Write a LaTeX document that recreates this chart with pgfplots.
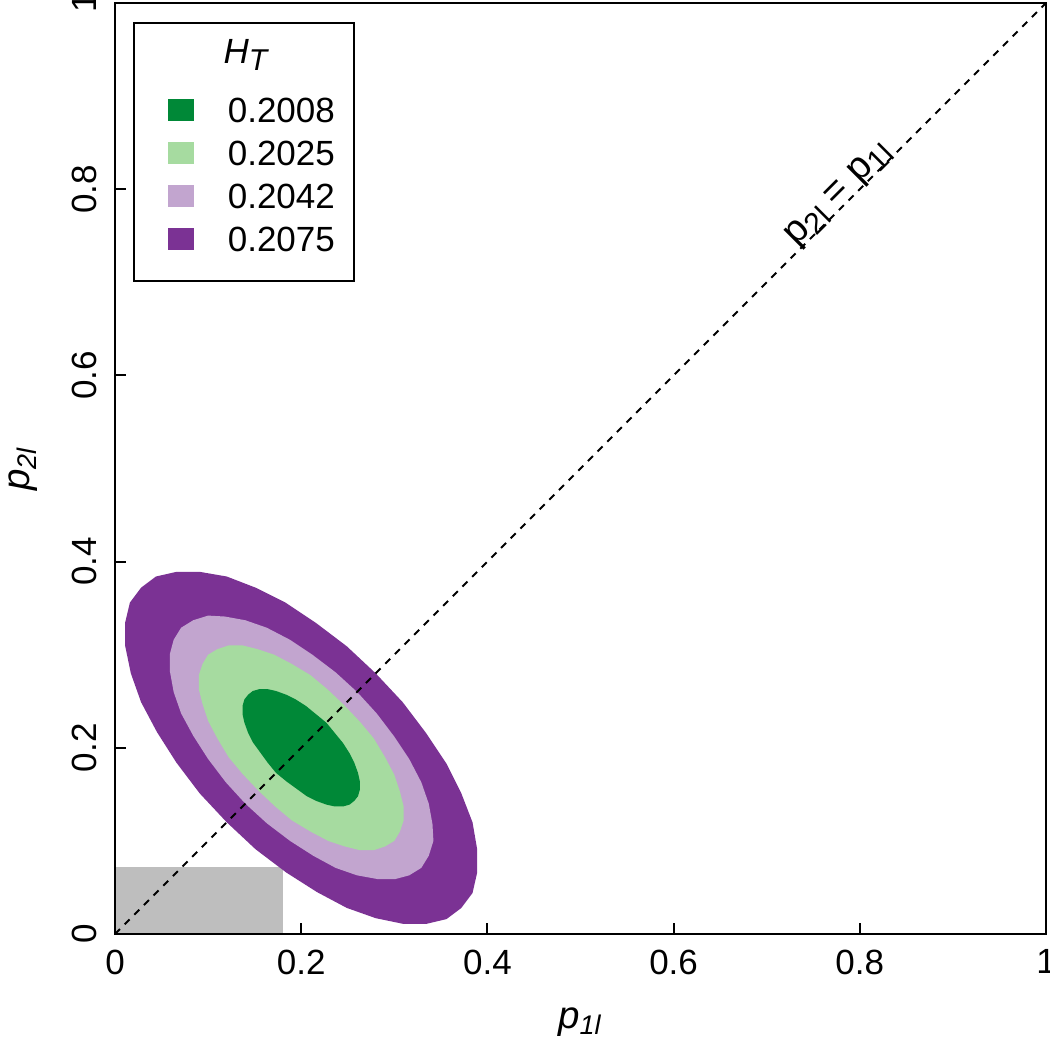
\documentclass[border=0pt]{standalone}
\usepackage{pgfplots}
\pgfplotsset{compat=1.18}
\usepackage{fontspec}
\setmainfont{Liberation Sans}
\definecolor{cDG}{HTML}{008837}
\definecolor{cLG}{HTML}{A6DBA0}
\definecolor{cLP}{HTML}{C2A5CF}
\definecolor{cDP}{HTML}{7B3294}
\definecolor{rgray}{HTML}{BEBEBE}
\newcommand{\sub}[1]{\raisebox{-0.35ex}{\fontsize{8.6}{10}\selectfont #1}}
\begin{document}
\begin{tikzpicture}
\begin{axis}[
  width=266pt, height=266pt, scale only axis,
  xmin=0, xmax=1, ymin=0, ymax=1,
  enlargelimits=false,
  axis on top,
  xtick={0,0.2,0.4,0.6,0.8,1},
  ytick={0,0.2,0.4,0.6,0.8,1},
  tick align=inside, tick pos=left,
  major tick length=3.1pt,
  tick style={black, line width=0.6pt},
  axis line style={line width=0.6pt},
  /pgf/number format/assume math mode=true,
  ticklabel style={font=\fontsize{10}{12}\selectfont, inner sep=0pt},
  xticklabel style={anchor=north},
  xticklabel shift=4.3pt,
  yticklabel style={rotate=90, anchor=south},
  yticklabel shift=5.1pt,
  xlabel={\textit{p}\textsubscript{\textit{1l}}},
  ylabel={\textit{p}\textsubscript{\textit{2l}}},
  every axis x label/.style={at={(axis description cs:0.5,-0.1011)}, anchor=base, font=\fontsize{11}{13}\selectfont},
  every axis y label/.style={at={(axis description cs:-0.0914,0.5)}, anchor=base, rotate=90, font=\fontsize{11}{13}\selectfont},
]
% grey rectangle
\addplot[fill=rgray, draw=none] coordinates {(0,0) (0.18,0) (0.18,0.072) (0,0.072)} -- cycle;
% H_T = 0.2075
\addplot[fill=cDP, draw=none] coordinates {
(0.372,0.028) (0.384,0.044) (0.389,0.066) (0.389,0.091) (0.384,0.120) (0.372,0.151)
(0.356,0.183) (0.334,0.216) (0.309,0.249) (0.280,0.280) (0.249,0.309) (0.216,0.334)
(0.183,0.356) (0.151,0.372) (0.120,0.384) (0.091,0.389) (0.066,0.389) (0.044,0.384)
(0.028,0.372) (0.016,0.356) (0.011,0.335) (0.011,0.309) (0.017,0.280) (0.028,0.249)
(0.045,0.217) (0.066,0.184) (0.091,0.151) (0.120,0.120) (0.151,0.091) (0.184,0.066)
(0.217,0.045) (0.249,0.028) (0.280,0.017) (0.309,0.011) (0.335,0.011) (0.356,0.016)} -- cycle;
% H_T = 0.2042
\addplot[fill=cLP, draw=none] coordinates {
(0.329,0.071) (0.337,0.084) (0.342,0.100) (0.341,0.118) (0.337,0.140) (0.329,0.163)
(0.316,0.188) (0.300,0.212) (0.281,0.237) (0.260,0.260) (0.237,0.281) (0.212,0.300)
(0.188,0.316) (0.163,0.329) (0.140,0.337) (0.118,0.341) (0.100,0.342) (0.084,0.337)
(0.071,0.329) (0.063,0.316) (0.059,0.301) (0.059,0.282) (0.063,0.260) (0.071,0.237)
(0.084,0.213) (0.100,0.188) (0.119,0.163) (0.140,0.140) (0.163,0.119) (0.188,0.100)
(0.213,0.084) (0.237,0.071) (0.260,0.063) (0.282,0.059) (0.301,0.059) (0.316,0.063)} -- cycle;
% H_T = 0.2025
\addplot[fill=cLG, draw=none] coordinates {
(0.300,0.100) (0.306,0.110) (0.310,0.122) (0.310,0.137) (0.306,0.153) (0.300,0.171)
(0.290,0.190) (0.278,0.210) (0.263,0.228) (0.246,0.246) (0.228,0.263) (0.210,0.278)
(0.190,0.290) (0.171,0.300) (0.153,0.306) (0.137,0.310) (0.122,0.310) (0.110,0.306)
(0.100,0.300) (0.094,0.290) (0.090,0.278) (0.090,0.263) (0.094,0.247) (0.100,0.229)
(0.110,0.210) (0.122,0.190) (0.137,0.172) (0.154,0.154) (0.172,0.137) (0.190,0.122)
(0.210,0.110) (0.229,0.100) (0.247,0.094) (0.263,0.090) (0.278,0.090) (0.290,0.094)} -- cycle;
% H_T = 0.2008
\addplot[fill=cDG, draw=none] coordinates {
(0.257,0.143) (0.261,0.148) (0.263,0.155) (0.263,0.164) (0.261,0.173) (0.257,0.184)
(0.252,0.194) (0.245,0.205) (0.236,0.216) (0.227,0.227) (0.216,0.236) (0.205,0.245)
(0.194,0.252) (0.184,0.257) (0.173,0.261) (0.164,0.263) (0.155,0.263) (0.148,0.261)
(0.143,0.257) (0.139,0.252) (0.137,0.245) (0.137,0.236) (0.139,0.227) (0.143,0.216)
(0.148,0.206) (0.156,0.195) (0.164,0.184) (0.173,0.173) (0.184,0.164) (0.195,0.156)
(0.206,0.148) (0.216,0.143) (0.227,0.139) (0.236,0.137) (0.245,0.137) (0.252,0.139)} -- cycle;
% diagonal
\addplot[black, line width=0.6pt, dash pattern=on 2pt off 1.9pt] coordinates {(0,0) (1,1)};
\node[rotate=45, anchor=center, inner sep=0pt, font=\fontsize{11}{13}\selectfont] at (axis cs:0.778,0.794) {p\sub{2l} = p\sub{1l}};
% legend
\node[draw=black, line width=0.6pt, fill=white, anchor=north west, inner sep=0pt] at (axis description cs:0.0193,0.9796) {%
\fontsize{10}{12.3}\selectfont
\begin{tabular}{@{\hspace{9.7pt}}c@{\hspace{9.7pt}}l@{\hspace{5.4pt}}}
\multicolumn{2}{@{}c@{}}{\rule{0pt}{11.6pt}\hspace{1.4pt}\textit{H}\sub{\textit{T}}}\\[4.6pt]
\textcolor{cDG}{\rule[0.6pt]{7.4pt}{6.3pt}} & 0.2008\\
\textcolor{cLG}{\rule[0.6pt]{7.4pt}{6.3pt}} & 0.2025\\
\textcolor{cLP}{\rule[0.6pt]{7.4pt}{6.3pt}} & 0.2042\\
\textcolor{cDP}{\rule[0.6pt]{7.4pt}{6.3pt}} & 0.2075\rule[-8.3pt]{0pt}{8.3pt}
\end{tabular}};
\end{axis}
\pgfresetboundingbox
\path[use as bounding box] ([xshift=-32.86pt,yshift=-29.86pt]current axis.south west) rectangle ([xshift=1.14pt,yshift=0.86pt]current axis.north east);
\end{tikzpicture}
\end{document}
